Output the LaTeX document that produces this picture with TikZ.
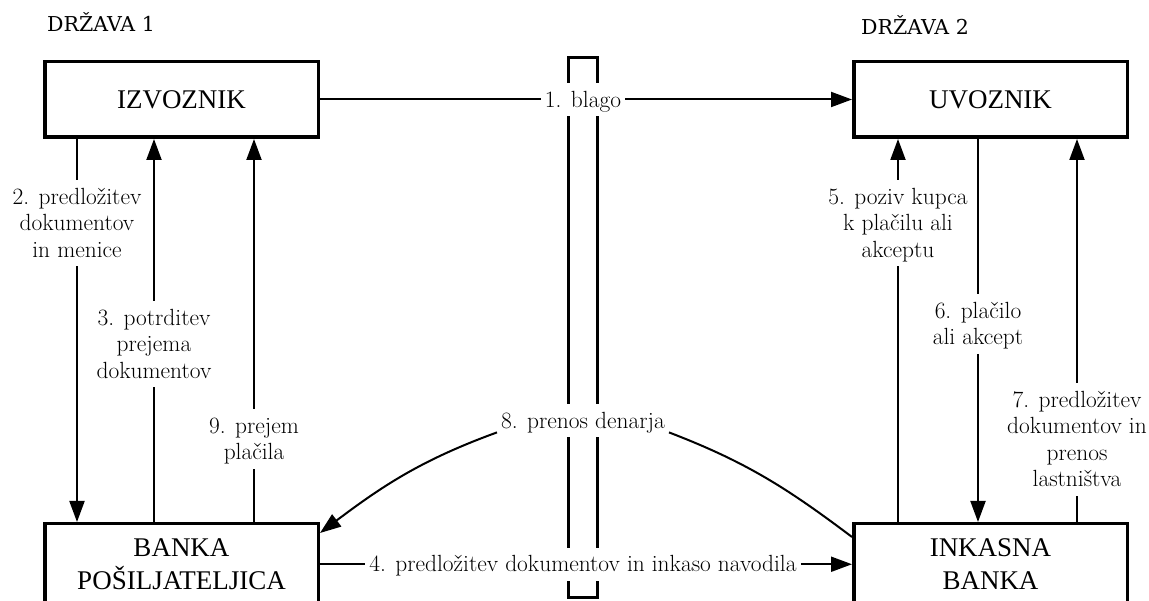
\documentclass[tikz,border=0pt]{standalone}
\usepackage{fontspec}
\setmainfont{Liberation Serif}
\newfontfamily\lmr{Latin Modern Roman}
\newfontfamily\dvs{DejaVu Serif}
\usetikzlibrary{arrows.meta}
% struts that fix the white band around each label
\newcommand{\hstrut}{\rule{0pt}{24pt}}
\newcommand{\dstrut}{\rule[-9pt]{0pt}{9pt}}

\begin{document}
\begin{tikzpicture}[x=1pt,y=1pt,
  box/.style={draw, line width=3.5pt, minimum width=273.5pt, inner sep=0pt,
    align=center, font=\fontsize{27}{33}\selectfont},
  topbox/.style={box, minimum height=75.5pt},
  botbox/.style={box, minimum height=81pt},
  lbl/.style={fill=white, inner xsep=4pt, inner ysep=0pt, align=center,
    anchor=north, font=\lmr\fontsize{23.4}{26.5}\selectfont},
  conn/.style={line width=2pt},
  arr/.style={-{Triangle[length=21pt,width=15pt]}},
  country/.style={anchor=base, font=\dvs\fontsize{20.5}{24}\selectfont},
  barbox/.style={draw, line width=3pt, minimum width=29pt,
    minimum height=540pt, inner sep=0pt}
]
\clip (0,0) rectangle (1149,601);
\fill[white] (0,0) rectangle (1149,601);

% border between the two countries
\node[barbox] (bar) at (583,273.5) {};

% parties
\node[topbox] (izv) at (181.5,501.5) {IZVOZNIK};
\node[topbox] (uvo) at (990.5,501.5) {UVOZNIK};
\node[botbox] (bp)  at (181.5,36.75) {BANKA\\POŠILJATELJICA};
\node[botbox] (ib)  at (990.5,36.75) {INKASNA\\BANKA};

\node[country] (d1) at (101,569) {DRŽAVA 1};
\node[country] (d2) at (915,566) {DRŽAVA 2};

% step labels
\node[lbl] (l1) at (583,518) {\hstrut 1. blago\dstrut};
\node[lbl] (l8) at (583,197) {\hstrut 8. prenos denarja\dstrut};
\node[lbl] (l4) at (583,53.25) {\hstrut 4. predložitev dokumentov in inkaso navodila\dstrut};
\node[lbl] (l2) at (77,421)  {\hstrut 2. predložitev\\dokumentov\\in menice\dstrut};
\node[lbl] (l3) at (154,300) {\hstrut 3. potrditev\\prejema\\dokumentov\dstrut};
\node[lbl] (l9) at (254,192) {\hstrut 9. prejem\\plačila\dstrut};
\node[lbl] (l5) at (898,421) {\hstrut 5. poziv kupca\\k plačilu ali\\akceptu\dstrut};
\node[lbl] (l6) at (978,307) {\hstrut 6. plačilo\\ali akcept\dstrut};
\node[lbl] (l7) at (1077,218) {\hstrut 7. predložitev\\dokumentov in\\prenos\\lastništva\dstrut};

% 1 and 4: across the border
\draw[conn] (izv.east) -- (izv.east -| l1.west);
\draw[conn,arr] (izv.east -| l1.east) -- (uvo.west);
\draw[conn] (bp.east) -- (bp.east -| l4.west);
\draw[conn,arr] (bp.east -| l4.east) -- (ib.west);

% exporter side
\draw[conn] (izv.south -| l2.north) -- (l2.north);
\draw[conn,arr] (l2.south) -- (bp.north -| l2.south);
\draw[conn] (bp.north -| l3.south) -- (l3.south);
\draw[conn,arr] (l3.north) -- (izv.south -| l3.north);
\draw[conn] (bp.north -| l9.south) -- (l9.south);
\draw[conn,arr] (l9.north) -- (izv.south -| l9.north);

% importer side
\draw[conn] (ib.north -| l5.south) -- (l5.south);
\draw[conn,arr] (l5.north) -- (uvo.south -| l5.north);
\draw[conn] (uvo.south -| l6.north) -- (l6.north);
\draw[conn,arr] (l6.south) -- (ib.north -| l6.south);
\draw[conn] (ib.north -| l7.south) -- (l7.south);
\draw[conn,arr] (l7.north) -- (uvo.south -| l7.north);

% 8: money transfer
\draw[conn,arr] ([yshift=5pt]l8.south west) to[out=200,in=37] ([yshift=-11pt]bp.north east);
\draw[conn] ([yshift=5pt]l8.south east) to[out=-21,in=143] ([yshift=-15pt]ib.north west);
\end{tikzpicture}
\end{document}
